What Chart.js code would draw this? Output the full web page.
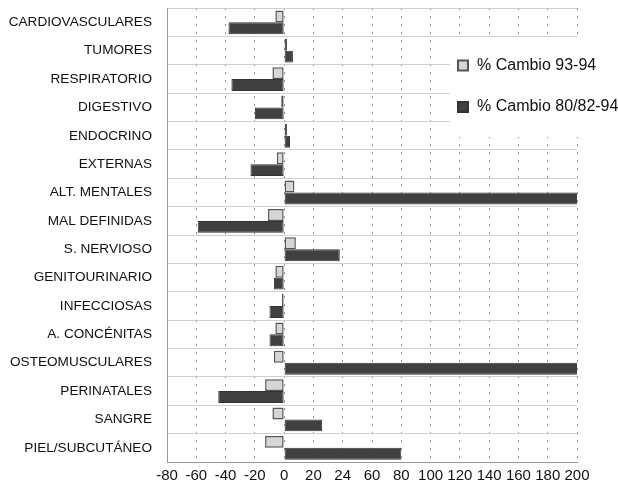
<!DOCTYPE html>
<html>
<head>
<meta charset="utf-8">
<script src="https://cdn.jsdelivr.net/npm/chart.js@4.4.1/dist/chart.umd.min.js"></script>
<style>
  body { margin: 0; background: #fff; }
  #wrap { width: 618px; height: 487px; }
</style>
</head>
<body>
<div id="wrap"><canvas id="chart" width="618" height="487"></canvas></div>
<script>
const categories = ["CARDIOVASCULARES", "TUMORES", "RESPIRATORIO", "DIGESTIVO", "ENDOCRINO", "EXTERNAS",
  "ALT. MENTALES", "MAL DEFINIDAS", "S. NERVIOSO", "GENITOURINARIO", "INFECCIOSAS", "A. CONCÉNITAS",
  "OSTEOMUSCULARES", "PERINATALES", "SANGRE", "PIEL/SUBCUTÁNEO"];
const cambio9394 = [-6, 2, -8, -2, 2, -5, 7, -11, 8, -6, -1.5, -6, -7, -13, -8, -13];
const cambio8094 = [-38, 6, -36, -20, 4, -23, 201, -59, 38, -7, -10, -10, 202, -45, 26, 80];
const xTickLabels = ["-80", "-60", "-40", "-20", "0", "20", "24", "60", "80", "100", "120", "140", "160", "180", "200"];

const labelFont = { family: "'Liberation Sans', Arial, sans-serif", size: 13.6 };
const tickFont = { family: "'Liberation Sans', Arial, sans-serif", size: 15 };
const legendFont = "16px 'Liberation Sans', Arial, sans-serif";

// legend sits inside the plot, on a white patch
const boxLegend = {
  id: "boxLegend",
  afterDraw(chart) {
    const ctx = chart.ctx;
    ctx.save();
    ctx.fillStyle = "#fff";
    ctx.fillRect(450, 38, 168, 99);
    const rows = [65.5, 107];
    chart.data.datasets.forEach((ds, i) => {
      const y = rows[i];
      ctx.fillStyle = ds.backgroundColor;
      ctx.strokeStyle = ds.borderColor;
      ctx.lineWidth = 2;
      ctx.fillRect(458, y - 5, 10, 10);
      ctx.strokeRect(458, y - 5, 10, 10);
      ctx.fillStyle = "#111";
      ctx.font = legendFont;
      ctx.textBaseline = "middle";
      ctx.fillText(ds.label, 477, y);
    });
    ctx.restore();
  }
};

new Chart(document.getElementById("chart"), {
  type: "bar",
  data: {
    labels: categories,
    datasets: [
      {
        label: "% Cambio 93-94",
        data: cambio9394,
        backgroundColor: "#d6d6d6",
        borderColor: "#555",
        borderWidth: 1.5,
        borderSkipped: false,
        categoryPercentage: 0.84,
        barPercentage: 1.0
      },
      {
        label: "% Cambio 80/82-94",
        data: cambio8094,
        backgroundColor: "#404040",
        borderColor: "#333",
        borderWidth: 1,
        borderSkipped: false,
        categoryPercentage: 0.84,
        barPercentage: 1.0
      }
    ]
  },
  options: {
    indexAxis: "y",
    responsive: false,
    animation: false,
    layout: { padding: { left: 0, right: 41, top: 8, bottom: 0 } },
    plugins: {
      legend: { display: false },
      tooltip: { enabled: false }
    },
    scales: {
      x: {
        min: -80,
        max: 200,
        ticks: {
          stepSize: 20,
          autoSkip: false,
          maxRotation: 0,
          padding: 5,
          color: "#111",
          font: tickFont,
          callback: (v, i) => xTickLabels[i]
        },
        grid: { color: "#8a8a8a", drawTicks: false, lineWidth: 1 },
        border: { display: true, color: "#999", dash: [2, 6] },
        afterFit: (s) => { s.height = 25; }
      },
      y: {
        ticks: { padding: 0, color: "#111", font: labelFont, autoSkip: false },
        grid: { color: "#cfcfcf", drawTicks: true, tickLength: 15, tickColor: "rgba(0,0,0,0)", offset: true },
        border: { display: true, color: "#999" },
        afterFit: (s) => { s.width = 167; }
      }
    }
  },
  plugins: [boxLegend]
});
</script>
</body>
</html>
